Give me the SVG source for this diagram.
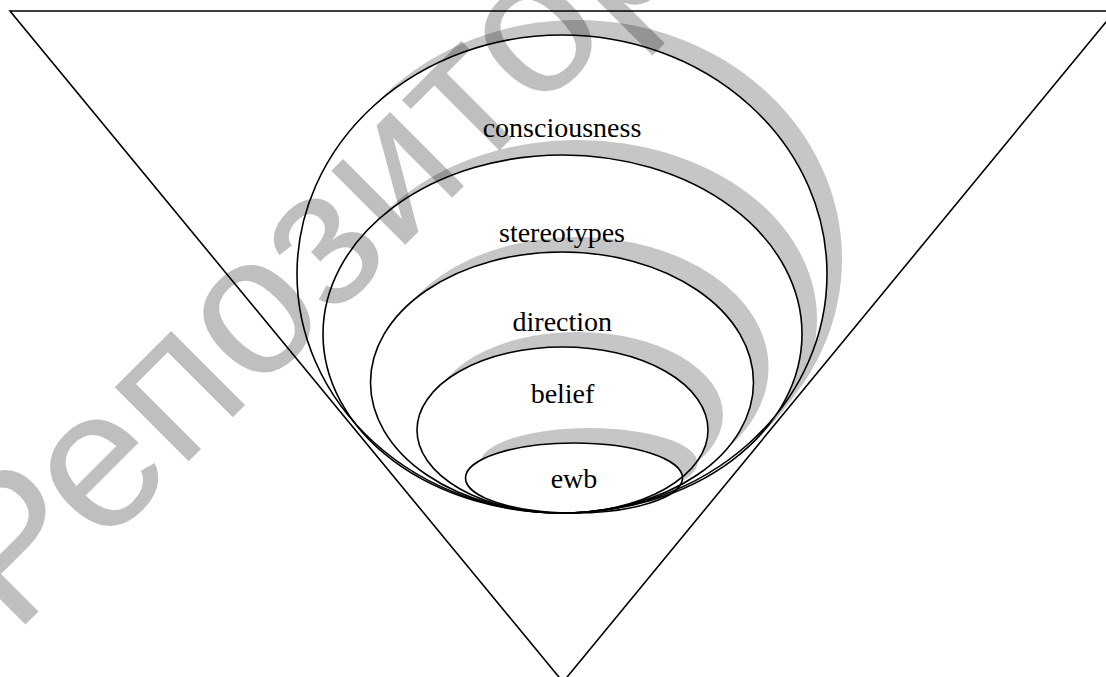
<svg xmlns="http://www.w3.org/2000/svg" width="1106" height="677" viewBox="0 0 1106 677">
<style>
.ln{fill:none;stroke:#000;stroke-width:1.6}
.sh{fill:#c6c6c6;stroke:none}
.lbl{font-family:'Liberation Serif','Times New Roman',serif;font-size:28px;fill:#000;text-anchor:middle}
.wm{font-family:'Liberation Sans',Arial,sans-serif;font-size:198px;fill:#000;fill-opacity:0.25}
</style>
<defs>
<clipPath id="out1"><path clip-rule="evenodd" d="M0 0H1106V677H0Z M297 274a265 239 0 1 0 530 0a265 239 0 1 0 -530 0Z"/></clipPath>
<clipPath id="out2"><path clip-rule="evenodd" d="M0 0H1106V677H0Z M323 334a239.5 179 0 1 0 479 0a239.5 179 0 1 0 -479 0Z"/></clipPath>
<clipPath id="out3"><path clip-rule="evenodd" d="M0 0H1106V677H0Z M370.5 382.5a191.5 130.5 0 1 0 383 0a191.5 130.5 0 1 0 -383 0Z"/></clipPath>
<clipPath id="out4"><path clip-rule="evenodd" d="M0 0H1106V677H0Z M417 430a145.5 83 0 1 0 291 0a145.5 83 0 1 0 -291 0Z"/></clipPath>
<clipPath id="out5"><path clip-rule="evenodd" d="M0 0H1106V677H0Z M465.5 478a108.5 35 0 1 0 217 0a108.5 35 0 1 0 -217 0Z"/></clipPath>
</defs>
<rect width="1106" height="677" fill="#fff"/>
<g id="frame">
<polygon class="ln" points="10,11 1115,11 563,682"/>
</g>
<g id="connectors"></g>
<g id="ewb">
<ellipse class="sh" cx="589" cy="463" rx="108.5" ry="35" clip-path="url(#out5)"/>
<ellipse class="ln" cx="574" cy="478" rx="108.5" ry="35"/>
<text class="lbl" x="574" y="487.5">ewb</text>
</g>
<g id="belief">
<ellipse class="sh" cx="577.5" cy="415" rx="145.5" ry="83" clip-path="url(#out4)"/>
<ellipse class="ln" cx="562.5" cy="430" rx="145.5" ry="83"/>
<text class="lbl" x="562.5" y="402.5">belief</text>
</g>
<g id="direction">
<ellipse class="sh" cx="577" cy="367.5" rx="191.5" ry="130.5" clip-path="url(#out3)"/>
<ellipse class="ln" cx="562" cy="382.5" rx="191.5" ry="130.5"/>
<text class="lbl" x="562.3" y="330.5">direction</text>
</g>
<g id="stereotypes">
<ellipse class="sh" cx="577.5" cy="319" rx="239.5" ry="179" clip-path="url(#out2)"/>
<ellipse class="ln" cx="562.5" cy="334" rx="239.5" ry="179"/>
<text class="lbl" x="562" y="241.5">stereotypes</text>
</g>
<g id="consciousness">
<ellipse class="sh" cx="577" cy="259" rx="265" ry="239" clip-path="url(#out1)"/>
<ellipse class="ln" cx="562" cy="274" rx="265" ry="239"/>
<text class="lbl" x="562" y="137.3">consciousness</text>
</g>
<text class="wm" transform="translate(14,636) rotate(-45)">Репозиторий</text>
</svg>
